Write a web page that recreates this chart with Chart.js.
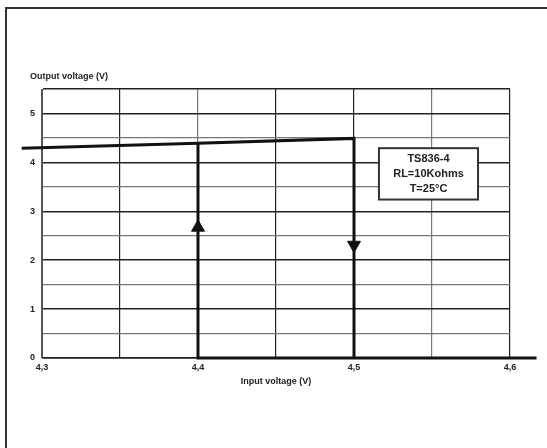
<!DOCTYPE html>
<html>
<head>
<meta charset="UTF-8">
<title>TS836-4 hysteresis</title>
<script src="https://cdn.jsdelivr.net/npm/chart.js"></script>
<style>
  body { margin: 0; background: #fff; }
  #wrap { width: 547px; height: 448px; }
</style>
</head>
<body>
<div id="wrap"><canvas id="c" width="547" height="448"></canvas></div>
<script>
// data
const risingIn = [4.287, 4.4, 4.5, 4.5];
const risingOut = [4.29, 4.39, 4.49, 0];
const fallingIn = [4.4, 4.4, 4.617];
const fallingOut = [4.39, 0, 0];
const arrowIn = [4.4, 4.5];
const arrowOut = [2.67, 2.31];
const arrowTurn = [0, 180];
const xTickLabels = ['4,3', '', '4,4', '', '4,5', '', '4,6'];
const yTickLabels = ['0', '', '1', '', '2', '', '3', '', '4', '', '5', ''];
const xGridColors = ['#555', '#222', '#777', '#222', '#222', '#777', '#222'];
const boxLines = ['TS836-4', 'RL=10Kohms', 'T=25\u00b0C'];
const boxX = [4.516, 4.5795];
const boxY = [4.29, 3.24];

const pts = (xs, ys) => xs.map((x, i) => ({ x: x, y: ys[i] }));
const FONT = 'Liberation Sans, Arial, sans-serif';

const extras = {
  id: 'extras',
  beforeDraw(chart) {
    const c = chart.ctx;
    c.save();
    c.fillStyle = '#fff';
    c.fillRect(0, 0, chart.width, chart.height);
    c.strokeStyle = '#333';
    c.lineWidth = 2;
    c.beginPath();
    c.moveTo(6, chart.height);
    c.lineTo(6, 8);
    c.lineTo(chart.width, 8);
    c.stroke();
    c.restore();
  },
  afterDraw(chart) {
    const c = chart.ctx, a = chart.chartArea;
    const xs = chart.scales.x, ys = chart.scales.y;
    c.save();
    c.fillStyle = '#222';
    c.font = 'bold 9px ' + FONT;
    c.textAlign = 'left';
    c.textBaseline = 'middle';
    c.fillText('Output voltage (V)', a.left - 12, a.top - 12);

    const l = xs.getPixelForValue(boxX[0]), r = xs.getPixelForValue(boxX[1]);
    const t = ys.getPixelForValue(boxY[0]), b = ys.getPixelForValue(boxY[1]);
    c.fillStyle = '#fff';
    c.fillRect(l, t, r - l, b - t);
    c.strokeStyle = '#333';
    c.lineWidth = 2;
    c.strokeRect(l, t, r - l, b - t);
    c.fillStyle = '#222';
    c.font = 'bold 11px ' + FONT;
    c.textAlign = 'center';
    const step = (b - t) / (boxLines.length + 0.5);
    boxLines.forEach((s, i) => c.fillText(s, (l + r) / 2, t + step * (i + 0.75)));
    c.restore();
  }
};

new Chart(document.getElementById('c'), {
  type: 'scatter',
  data: {
    datasets: [
      { data: pts(risingIn, risingOut), showLine: true, borderColor: '#111', borderWidth: 3,
        pointRadius: 0, clip: false },
      { data: pts(fallingIn, fallingOut), showLine: true, borderColor: '#111', borderWidth: 3,
        pointRadius: 0, clip: false },
      { data: pts(arrowIn, arrowOut), pointStyle: 'triangle', pointRadius: 7.5,
        pointRotation: arrowTurn, backgroundColor: '#111', borderColor: '#111', borderWidth: 1 }
    ]
  },
  options: {
    responsive: false,
    animation: false,
    layout: { padding: { left: 0, top: 89, right: 37, bottom: 57 } },
    plugins: { legend: { display: false }, tooltip: { enabled: false } },
    scales: {
      x: {
        type: 'linear', min: 4.3, max: 4.6,
        afterBuildTicks: s => { s.ticks = xTickLabels.map((_, i) => ({ value: 4.3 + i * 0.05 })); },
        afterFit: s => { s.height = 33; },
        grid: { color: ctx => xGridColors[ctx.index] || '#222', lineWidth: 1.2, drawTicks: false },
        border: { color: '#555', width: 1 },
        ticks: {
          callback: (v, i) => xTickLabels[i], autoSkip: false, maxRotation: 0, padding: 4,
          color: '#222', font: { family: FONT, size: 9, weight: 'bold' }
        },
        title: {
          display: true, text: 'Input voltage (V)', color: '#222', padding: { top: 1, bottom: 4 },
          font: { family: FONT, size: 9, weight: 'bold' }
        }
      },
      y: {
        type: 'linear', min: 0, max: 5.5,
        afterBuildTicks: s => { s.ticks = yTickLabels.map((_, i) => ({ value: i * 0.5 })); },
        afterFit: s => { s.width = 42; },
        grid: {
          color: ctx => (ctx.index % 2 === 0 || ctx.index === 11) ? '#222' : '#777',
          lineWidth: ctx => (ctx.index % 2 === 0 || ctx.index === 11) ? 1.5 : 1.2,
          drawTicks: false
        },
        border: { color: '#555', width: 1 },
        ticks: {
          callback: (v, i) => yTickLabels[i], autoSkip: false, padding: 7,
          color: '#222', font: { family: FONT, size: 9, weight: 'bold' }
        }
      }
    }
  },
  plugins: [extras]
});
</script>
</body>
</html>
